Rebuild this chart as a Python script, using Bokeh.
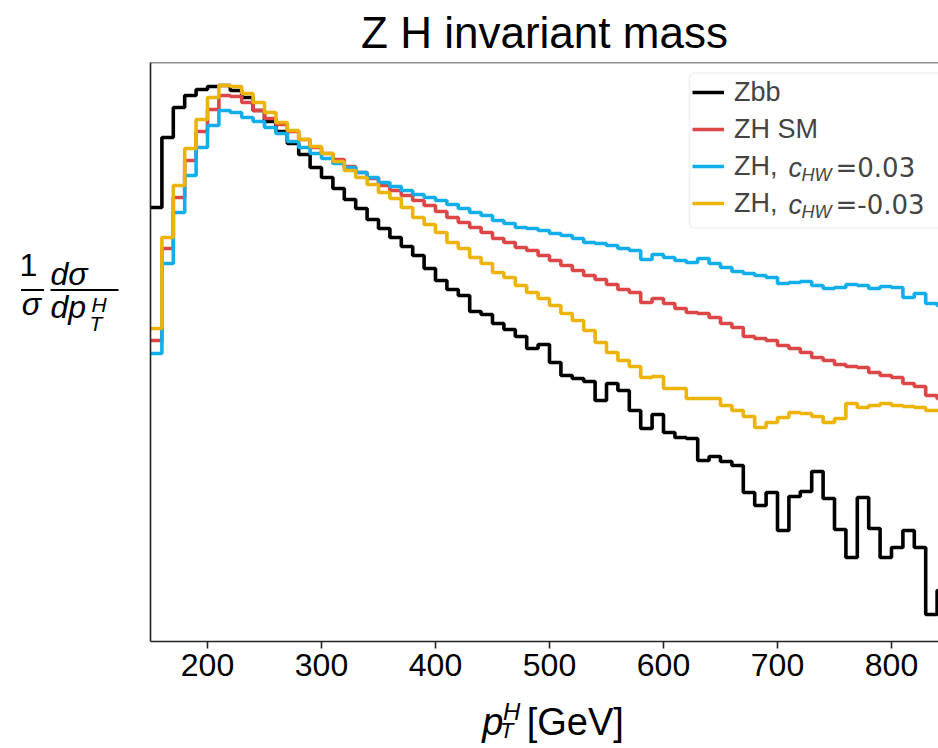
import numpy as np
from bokeh.plotting import figure
from bokeh.layouts import row, column
from bokeh.models import (Range1d, Span, Label, Arrow, BoxAnnotation, Legend,
                          LegendItem, FixedTicker)
from bokeh.embed import file_html
from bokeh.resources import INLINE

# ---------------- data ----------------
# 10 GeV bins from 150 to 850 GeV (71 edges, 70 bins)
BIN_EDGES = list(range(150, 860, 10))

# Vertical positions on the (unlabelled, log-like) density axis, read per bin.
# The axis runs downward: larger number = lower 1/sigma dsigma/dpT.
ZBB = [207, 137, 107, 95, 89, 86, 85, 90, 97, 110,
       121, 131, 143, 154, 167, 177, 188, 199, 208, 219,
       228, 237, 246, 255, 268, 280, 289, 295, 311, 314,
       323, 329, 336, 348, 344, 362, 375, 378, 381, 400,
       383, 390, 410, 428, 414, 432, 437, 438, 460, 456,
       461, 465, 492, 505, 492, 530, 496, 491, 471, 498,
       529, 557, 497, 528, 557, 547, 530, 547, 614, 590]
ZH_SM = [340, 248, 197, 160, 131, 109, 95, 96, 102, 110,
         118, 124, 131, 139, 147, 153, 159, 166, 172, 178,
         185, 190, 195, 200, 205, 211, 217, 222, 227, 232,
         238, 242, 247, 250, 255, 260, 265, 270, 275, 279,
         284, 289, 292, 302, 298, 303, 308, 312, 313, 317,
         323, 327, 336, 338, 340, 345, 348, 352, 357, 360,
         364, 366, 367, 372, 375, 377, 383, 386, 395, 398]
ZH_CHW_P003 = [353, 263, 212, 175, 147, 125, 110, 112, 117, 121,
               127, 133, 141, 147, 153, 158, 163, 167, 172, 177,
               182, 186, 190, 194, 197, 200, 204, 208, 212, 215,
               220, 223, 227, 228, 230, 233, 235, 238, 242, 243,
               245, 248, 250, 259, 254, 257, 260, 262, 258, 263,
               267, 271, 273, 275, 277, 283, 282, 281, 285, 288,
               287, 284, 285, 288, 286, 287, 297, 293, 303, 305]
ZH_CHW_M003 = [328, 237, 185, 148, 119, 97, 85, 86, 93, 102,
               112, 122, 130, 139, 146, 153, 161, 170, 177, 184,
               192, 198, 207, 217, 224, 232, 242, 248, 257, 263,
               272, 277, 285, 292, 298, 305, 313, 320, 330, 342,
               352, 360, 366, 377, 376, 388, 388, 398, 398, 398,
               405, 410, 416, 427, 422, 417, 412, 413, 416, 422,
               418, 403, 407, 405, 403, 405, 406, 407, 410, 410]

X_TICKS = [200, 300, 400, 500, 600, 700, 800]
SERIES_LABELS = ["Zbb", "ZH SM", "ZH,", "ZH,"]
CHW_VALUES = ["=0.03", "=-0.03"]
COLORS = ["#000000", "#dc4646", "#12aeea", "#ebb406"]
TITLE = "Z H invariant mass"

# ---------------- layout constants (page pixels) ----------------
PAGE_W, PAGE_H = 938, 748
YLAB_W = 140                 # left text panel
LEFT, TOP = 150, 62          # page pixel of the frame's top-left corner
FRAME_W, FRAME_H = 788, 579
MAIN_BOTTOM = 52
MAIN_H = TOP + FRAME_H + MAIN_BOTTOM
PX_PER_GEV = 1.14
X_START = 150.0
Y_TOP, Y_BOT = 62, 641       # vertical scale = page pixel rows

FONT = "Liberation Sans"
AX_COLOR = "#222222"


def px2x(px):
    """page pixel -> data x of the main plot (annotations only)"""
    return X_START + (px - LEFT) / PX_PER_GEV


def text_panel(width, height, x0, y0):
    """blank figure whose data units are page pixels"""
    f = figure(width=width, height=height,
               x_range=Range1d(x0, x0 + width),
               y_range=Range1d(y0 + height, y0),
               min_border_left=0, min_border_right=0, min_border_top=0,
               min_border_bottom=0, output_backend="svg",
               toolbar_location=None)
    f.axis.visible = False
    f.grid.visible = False
    f.outline_line_color = None
    f.background_fill_color = "white"
    f.border_fill_color = "white"
    return f


def add_text(f, x, baseline, text, size, italic=False, align="left",
             font=FONT):
    """place text by its alphabetic baseline (via a 'middle' anchor)"""
    f.add_layout(Label(x=x, y=baseline - 0.35 * size, text=text,
                       text_font=font, text_font_size=f"{size}px",
                       text_font_style="italic" if italic else "normal",
                       text_align=align, text_baseline="middle",
                       text_color="black"))


# ---------------- main plot ----------------
p = figure(frame_width=FRAME_W, frame_height=FRAME_H, title=TITLE,
           x_range=Range1d(X_START, X_START + FRAME_W / PX_PER_GEV),
           y_range=Range1d(Y_BOT, Y_TOP),
           min_border_left=LEFT - YLAB_W, min_border_right=0,
           min_border_top=TOP, min_border_bottom=MAIN_BOTTOM,
           output_backend="svg", toolbar_location=None)
p.outline_line_color = None
p.grid.visible = False
p.background_fill_color = "white"
p.border_fill_color = "white"

p.title.align = "center"
p.title.offset = 12
p.title.standoff = 11
p.title.text_font = FONT
p.title.text_font_size = "44px"
p.title.text_font_style = "normal"
p.title.text_color = "black"

xa = p.xaxis[0]
xa.ticker = FixedTicker(ticks=X_TICKS)
xa.major_label_text_font = FONT
xa.major_label_text_font_size = "32px"
xa.major_label_text_color = "black"
xa.major_tick_out = 7
xa.major_tick_in = 0
xa.minor_tick_out = 0
xa.minor_tick_in = 0
xa.major_label_standoff = 5
xa.axis_line_width = 1.6
xa.axis_line_color = AX_COLOR
xa.major_tick_line_width = 1.6
xa.major_tick_line_color = AX_COLOR

ya = p.yaxis[0]
ya.ticker = FixedTicker(ticks=[])
ya.major_tick_out = 0
ya.minor_tick_out = 0
ya.major_label_standoff = 0
ya.major_label_text_font_size = "0px"
ya.axis_line_width = 1.6
ya.axis_line_color = AX_COLOR

p.add_layout(Span(location=Y_TOP, dimension="width", line_color=AX_COLOR,
                  line_width=1.6))

renderers = []
for vals, col in zip([ZBB, ZH_SM, ZH_CHW_P003, ZH_CHW_M003], COLORS):
    r = p.step(BIN_EDGES, vals + [vals[-1]], mode="after",
               line_color=col, line_width=3.6)
    renderers.append(r)

# legend
p.add_layout(BoxAnnotation(left=px2x(689), right=px2x(990), top=72.5,
                           bottom=227.5, fill_color="white", fill_alpha=0.85,
                           line_color="#d0d0d0", line_width=1.5,
                           border_radius=5, level="annotation"))
legend = Legend(items=[LegendItem(label=lab, renderers=[r])
                       for lab, r in zip(SERIES_LABELS, renderers)],
                location=(539, 641 - 224), margin=0, padding=3,
                glyph_width=32, glyph_height=36, label_height=36,
                label_width=10, spacing=1, label_standoff=10,
                label_text_font=FONT, label_text_font_size="27px",
                border_line_alpha=0, background_fill_alpha=0)
p.add_layout(legend)

# italic c_HW parts of the two EFT legend labels (item centres 167 / 204)
for cy, txt in zip([167.0, 204.0], CHW_VALUES):
    p.add_layout(Label(x=px2x(788), y=cy, text="c", text_font=FONT,
                       text_font_style="italic", text_font_size="27px",
                       text_baseline="middle"))
    p.add_layout(Label(x=px2x(801), y=cy + 7, text="HW", text_font=FONT,
                       text_font_style="italic", text_font_size="18px",
                       text_baseline="middle"))
    p.add_layout(Label(x=px2x(835), y=cy, text=txt, text_font="DejaVu Sans",
                       text_font_size="26px", text_baseline="middle"))

# ---------------- y-axis label panel:  (1/sigma) d sigma / d p_T^H -------
ylab = text_panel(YLAB_W, PAGE_H, 0, 0)
add_text(ylab, 28, 276, "1", 32, align="center")
add_text(ylab, 31, 315, "σ", 32, italic=True, align="center")
add_text(ylab, 50, 285, "dσ", 32, italic=True)
add_text(ylab, 50, 318, "dp", 32, italic=True)
add_text(ylab, 91, 311, "H", 21, italic=True)
add_text(ylab, 89, 330, "T", 21, italic=True)
for x0, x1 in [(20.5, 43.5), (50, 118)]:
    ylab.add_layout(Arrow(x_start=x0, y_start=289.5, x_end=x1, y_end=289.5,
                          start=None, end=None,
                          line_color="black", line_width=1.8))

# ---------------- x-axis label panel:  p_T^H [GeV] ----------------
xlab = text_panel(PAGE_W - YLAB_W, PAGE_H - MAIN_H, YLAB_W, MAIN_H)
add_text(xlab, 476, 735, "p", 38, italic=True)
add_text(xlab, 497, 719, "H", 24, italic=True)
add_text(xlab, 494, 738, "T", 22, italic=True)
add_text(xlab, 521, 735, "[GeV]", 38)

layout = row(ylab, column(p, xlab, spacing=0), spacing=0)
open("out.html", "w").write(file_html(layout, INLINE))
